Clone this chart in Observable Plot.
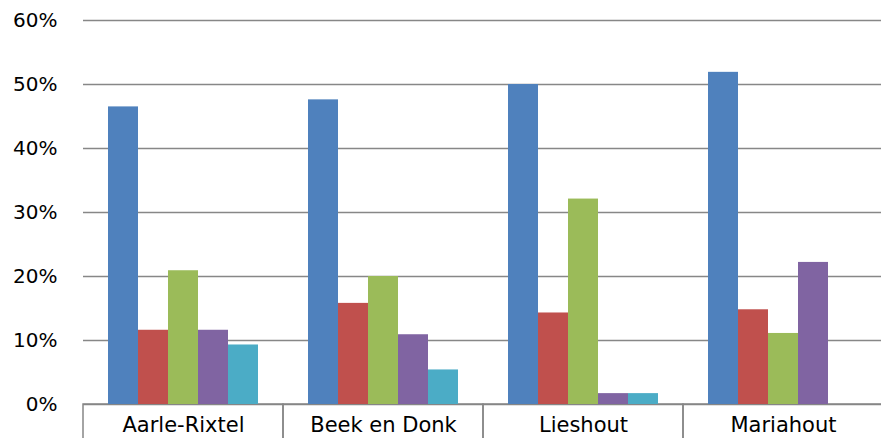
<!DOCTYPE html>
<html>
<head>
<meta charset="utf-8">
<script src="https://cdn.jsdelivr.net/npm/d3@7"></script>
<script src="https://cdn.jsdelivr.net/npm/@observablehq/plot@0.6"></script>
<style>
  html, body { margin: 0; padding: 0; background: #fff; overflow: hidden; }
</style>
</head>
<body>
<div id="chart"></div>
<script>
const categories = ["Aarle-Rixtel", "Beek en Donk", "Lieshout", "Mariahout"];
const series = ["Reeks 1", "Reeks 2", "Reeks 3", "Reeks 4", "Reeks 5"];
const colors = ["#4F81BD", "#C0504D", "#9BBB59", "#8064A2", "#4BACC6"];
const values1 = [0.465, 0.476, 0.500, 0.519];
const values2 = [0.116, 0.158, 0.143, 0.148];
const values3 = [0.209, 0.200, 0.321, 0.111];
const values4 = [0.116, 0.109, 0.017, 0.222];
const values5 = [0.093, 0.054, 0.017, 0.0];
const yTicks = [0, 0.1, 0.2, 0.3, 0.4, 0.5, 0.6];

const allValues = [values1, values2, values3, values4, values5];
const data = [];
categories.forEach((c, i) => {
  series.forEach((s, j) => {
    data.push({place: c, series: s, value: allValues[j][i]});
  });
});

const grid = "#878787";

const chart = Plot.plot({
  width: 881,
  height: 438,
  marginLeft: 83,
  marginRight: -2,
  marginTop: 20,
  marginBottom: 34,
  style: {fontFamily: "'DejaVu Sans', sans-serif", fontSize: "20px", color: "#000", background: "#fff"},
  fx: {domain: categories, padding: 0, label: null},
  x: {domain: series, paddingInner: 0, paddingOuter: 0.75, axis: null},
  y: {domain: [0, 0.6], label: null},
  color: {domain: series, range: colors},
  marks: [
    Plot.ruleY(yTicks, {stroke: grid, strokeWidth: 1.5}),
    Plot.barY(categories, {fx: d => d, y1: 0, y2: -0.06, fill: "none", stroke: grid, strokeWidth: 1.5}),
    Plot.barY(data, {fx: "place", x: "series", y: "value", fill: "series"}),
    Plot.axisY(yTicks, {tickFormat: d3.format(".0%"), tickSize: 0, tickPadding: 26, line: true, stroke: grid, strokeWidth: 1.5, fill: "#000", label: null}),
    Plot.axisFx({anchor: "bottom", tickSize: 0, tickPadding: 13, label: null, fill: "#000", fontSize: 21})
  ]
});
document.getElementById("chart").appendChild(chart);
</script>
</body>
</html>
